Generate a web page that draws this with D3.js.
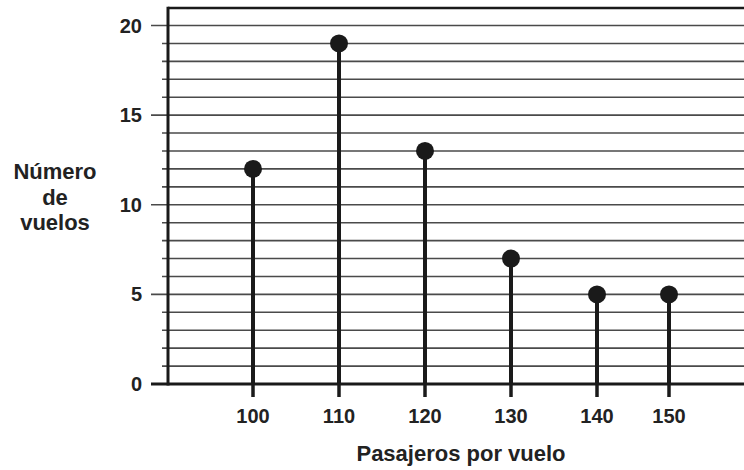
<!DOCTYPE html>
<html><head><meta charset="utf-8">
<script src="https://cdn.jsdelivr.net/npm/d3@7"></script>
<style>body{margin:0;background:#fff}text{font-family:"Liberation Sans",Arial,Helvetica,sans-serif;font-weight:bold;fill:#222}</style>
</head><body><svg id="c" width="744" height="470"></svg>
<script>
const passengers = [100, 110, 120, 130, 140, 150];
const flights = [12, 19, 13, 7, 5, 5];
const yTicks = [0, 5, 10, 15, 20];
const xTitle = "Pasajeros por vuelo";
const yTitle = ["Número", "de", "vuelos"];

const svg = d3.select("#c");
const mLeft = 168, mTop = 8, mRight = 744, mBottom = 384;
const y = d3.scaleLinear().domain([0, 20]).range([mBottom, 25.5]);
const x = d3.scaleLinear().domain([100, 140, 150]).range([253, 597, 669]);

// gridlines every unit
const grid = d3.range(1, 21);
svg.append("g").selectAll("line").data(grid).join("line")
  .attr("x1", d => d % 5 === 0 ? 151 : 162).attr("x2", mRight)
  .attr("y1", d => y(d)).attr("y2", d => y(d))
  .attr("stroke", "#4a4a4a").attr("stroke-width", 1.6);

// y axis tick labels
svg.append("g").selectAll("text").data(yTicks).join("text")
  .attr("x", 142).attr("y", d => y(d) + 7)
  .attr("text-anchor", "end").attr("font-size", 20).text(d => d);

// frame: top border, left axis, bottom axis
svg.append("line").attr("x1", mLeft).attr("x2", mRight).attr("y1", mTop).attr("y2", mTop)
  .attr("stroke", "#1a1a1a").attr("stroke-width", 2.5);
svg.append("line").attr("x1", mLeft).attr("x2", mLeft).attr("y1", mTop - 1.2).attr("y2", mBottom + 1.5)
  .attr("stroke", "#1a1a1a").attr("stroke-width", 3);
svg.append("line").attr("x1", 151).attr("x2", mRight).attr("y1", mBottom).attr("y2", mBottom)
  .attr("stroke", "#1a1a1a").attr("stroke-width", 3);

// x ticks
svg.append("g").selectAll("line").data(passengers).join("line")
  .attr("x1", d => x(d)).attr("x2", d => x(d)).attr("y1", mBottom).attr("y2", 397)
  .attr("stroke", "#1a1a1a").attr("stroke-width", 3.5);
svg.append("g").selectAll("text").data(passengers).join("text")
  .attr("x", d => x(d)).attr("y", 423).attr("text-anchor", "middle")
  .attr("font-size", 20).text(d => d);

// stems and dots
const pts = passengers.map((p, i) => ({p, v: flights[i]}));
svg.append("g").selectAll("line").data(pts).join("line")
  .attr("x1", d => x(d.p)).attr("x2", d => x(d.p))
  .attr("y1", mBottom).attr("y2", d => y(d.v))
  .attr("stroke", "#1a1a1a").attr("stroke-width", 4);
svg.append("g").selectAll("circle").data(pts).join("circle")
  .attr("cx", d => x(d.p)).attr("cy", d => y(d.v)).attr("r", 9)
  .attr("fill", "#1a1a1a");

// titles
svg.append("text").attr("x", 461).attr("y", 461).attr("text-anchor", "middle")
  .attr("font-size", 22).text(xTitle);
svg.append("g").selectAll("text").data(yTitle).join("text")
  .attr("x", 55).attr("y", (d, i) => 179 + i * 25.5).attr("text-anchor", "middle")
  .attr("font-size", 22).text(d => d);
</script></body></html>
